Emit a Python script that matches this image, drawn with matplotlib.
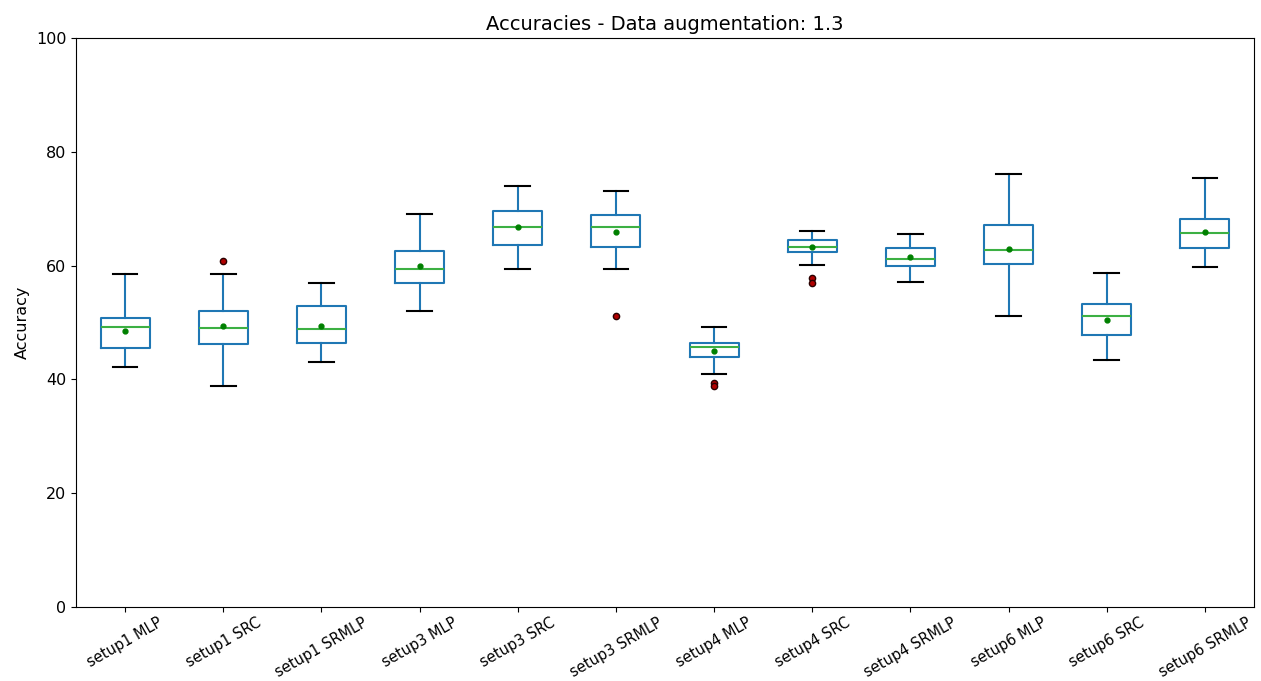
import matplotlib.pyplot as plt

labels = ['setup1 MLP', 'setup1 SRC', 'setup1 SRMLP',
          'setup3 MLP', 'setup3 SRC', 'setup3 SRMLP',
          'setup4 MLP', 'setup4 SRC', 'setup4 SRMLP',
          'setup6 MLP', 'setup6 SRC', 'setup6 SRMLP']

whislo = [42.2, 38.8, 43.0, 52.0, 59.4, 59.4, 40.9, 60.1, 57.1, 51.1, 43.4, 59.8]
q1     = [45.5, 46.2, 46.4, 56.9, 63.6, 63.3, 43.9, 62.4, 59.9, 60.3, 47.8, 63.1]
med    = [49.2, 49.0, 48.9, 59.4, 66.8, 66.8, 45.7, 63.3, 61.2, 62.7, 51.1, 65.8]
q3     = [50.8, 52.0, 52.9, 62.6, 69.6, 68.9, 46.4, 64.5, 63.1, 67.1, 53.3, 68.2]
whishi = [58.5, 58.5, 56.9, 69.1, 74.0, 73.1, 49.2, 66.1, 65.6, 76.1, 58.7, 75.4]
means  = [48.5, 49.4, 49.4, 59.9, 66.8, 65.9, 45.0, 63.3, 61.5, 62.9, 50.5, 65.9]
fliers = [[], [60.8], [], [], [], [51.1], [39.4, 38.8], [57.8, 56.9], [], [], [], []]

stats = []
for i in range(len(labels)):
    stats.append({'label': labels[i], 'whislo': whislo[i], 'q1': q1[i],
                  'med': med[i], 'q3': q3[i], 'whishi': whishi[i],
                  'mean': means[i], 'fliers': fliers[i]})

LW = 1.5
fig = plt.figure(figsize=(12.61, 6.81), dpi=100)
ax = fig.add_axes([0.0603, 0.1087, 0.9341, 0.8355])

ax.bxp(stats, widths=0.5, showmeans=True, patch_artist=False,
       boxprops=dict(color='#1f77b4', linewidth=LW),
       whiskerprops=dict(color='#1f77b4', linewidth=LW),
       capprops=dict(color='black', linewidth=LW),
       medianprops=dict(color='#3cb043', linewidth=LW),
       meanprops=dict(marker='o', markerfacecolor='green', markeredgecolor='green', markersize=3.5),
       flierprops=dict(marker='o', markerfacecolor='#b00000', markeredgecolor='#2a0000', markersize=4.5))

ax.set_ylim(0, 100)
ax.set_xticklabels(labels, rotation=30, fontsize=10.5)
ax.tick_params(axis='x', pad=2.5)
ax.tick_params(axis='y', labelsize=11.5)
ax.set_ylabel('Accuracy', fontsize=11.5)
ax.set_title('Accuracies - Data augmentation: 1.3', fontsize=14)

fig.savefig('out.png', dpi=100)
